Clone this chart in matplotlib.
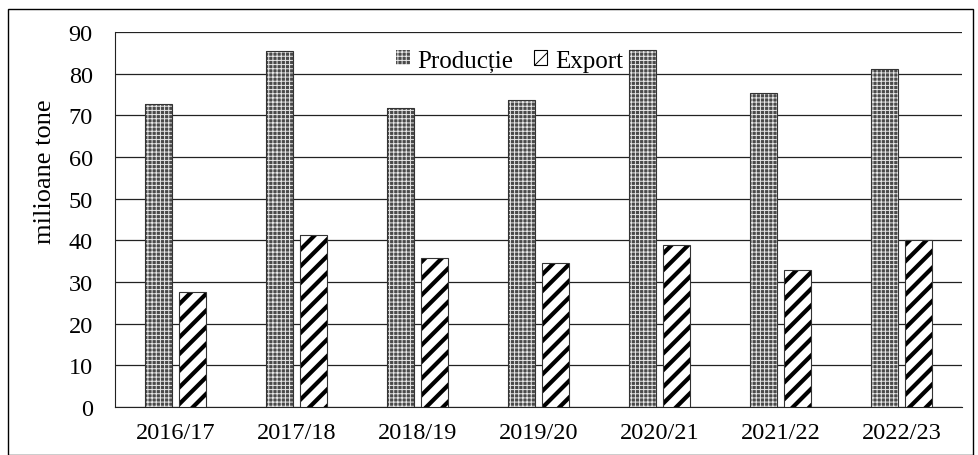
import numpy as np
import matplotlib.pyplot as plt
from matplotlib.patches import Rectangle

plt.rcParams['font.family'] = ['Liberation Serif', 'DejaVu Serif']

seasons = ['2016/17', '2017/18', '2018/19', '2019/20', '2020/21', '2021/22', '2022/23']
productie = [72.7, 85.4, 71.8, 73.7, 85.7, 75.4, 81.1]
export = [27.6, 41.3, 35.8, 34.6, 38.9, 32.9, 40.1]

fig = plt.figure(figsize=(9.79, 4.56), dpi=100)
ax = fig.add_axes([0.1175, 0.1053, 0.865, 0.8223])

x = np.arange(len(seasons))
w = 0.225
off = 0.142

# productie: grey fill with white dotted texture
plt.rcParams['hatch.linewidth'] = 0.7
ax.bar(x - off, productie, w, color='#4a4a4a', edgecolor='#e8e8e8', hatch='++++', lw=0, zorder=3)
ax.bar(x - off, productie, w, fill=False, edgecolor='#333333', lw=0.8, zorder=4)

# export: white with thick black diagonals
with plt.rc_context({'hatch.linewidth': 3.0}):
    ax.bar(x + off, export, w, color='white', edgecolor='black', hatch='//', lw=0, zorder=3)
ax.bar(x + off, export, w, fill=False, edgecolor='#333333', lw=0.8, zorder=4)

ax.set_xlim(-0.5, len(seasons) - 0.5)
ax.set_ylim(0, 90)
ax.set_yticks(range(0, 91, 10))
ax.set_xticks(x)
ax.set_xticklabels(seasons)
ax.tick_params(axis='both', length=0, labelsize=17.5)
ax.tick_params(axis='x', pad=11)
ax.tick_params(axis='y', pad=16)
ax.yaxis.grid(True, color='#222222', lw=0.9, zorder=1)
ax.set_axisbelow(True)
for s in ['top', 'right']:
    ax.spines[s].set_visible(False)
ax.spines['left'].set_color('#222222')
ax.spines['bottom'].set_color('#222222')
ax.set_ylabel('milioane tone', fontsize=19, labelpad=9, y=0.63)

# legend
p1 = Rectangle((0, 0), 1, 1, facecolor='#4a4a4a', edgecolor='#e8e8e8', hatch='++++', lw=0)
p2 = Rectangle((0, 0), 1, 1, facecolor='white', edgecolor='black', hatch='//', lw=0.8)
leg = ax.legend([p1, p2], ['Producție', 'Export'], loc='upper center', bbox_to_anchor=(0.466, 1.0),
                ncol=2, frameon=False, fontsize=18, handlelength=0.55, handleheight=0.55,
                handletextpad=0.3, columnspacing=0.8, borderaxespad=0.3)
leg.set_zorder(5)

fig.patches.append(Rectangle((0.008, 0.0), 0.986, 0.978, transform=fig.transFigure,
                             fill=False, edgecolor='black', lw=1.0))

fig.savefig('out.png', dpi=100)
